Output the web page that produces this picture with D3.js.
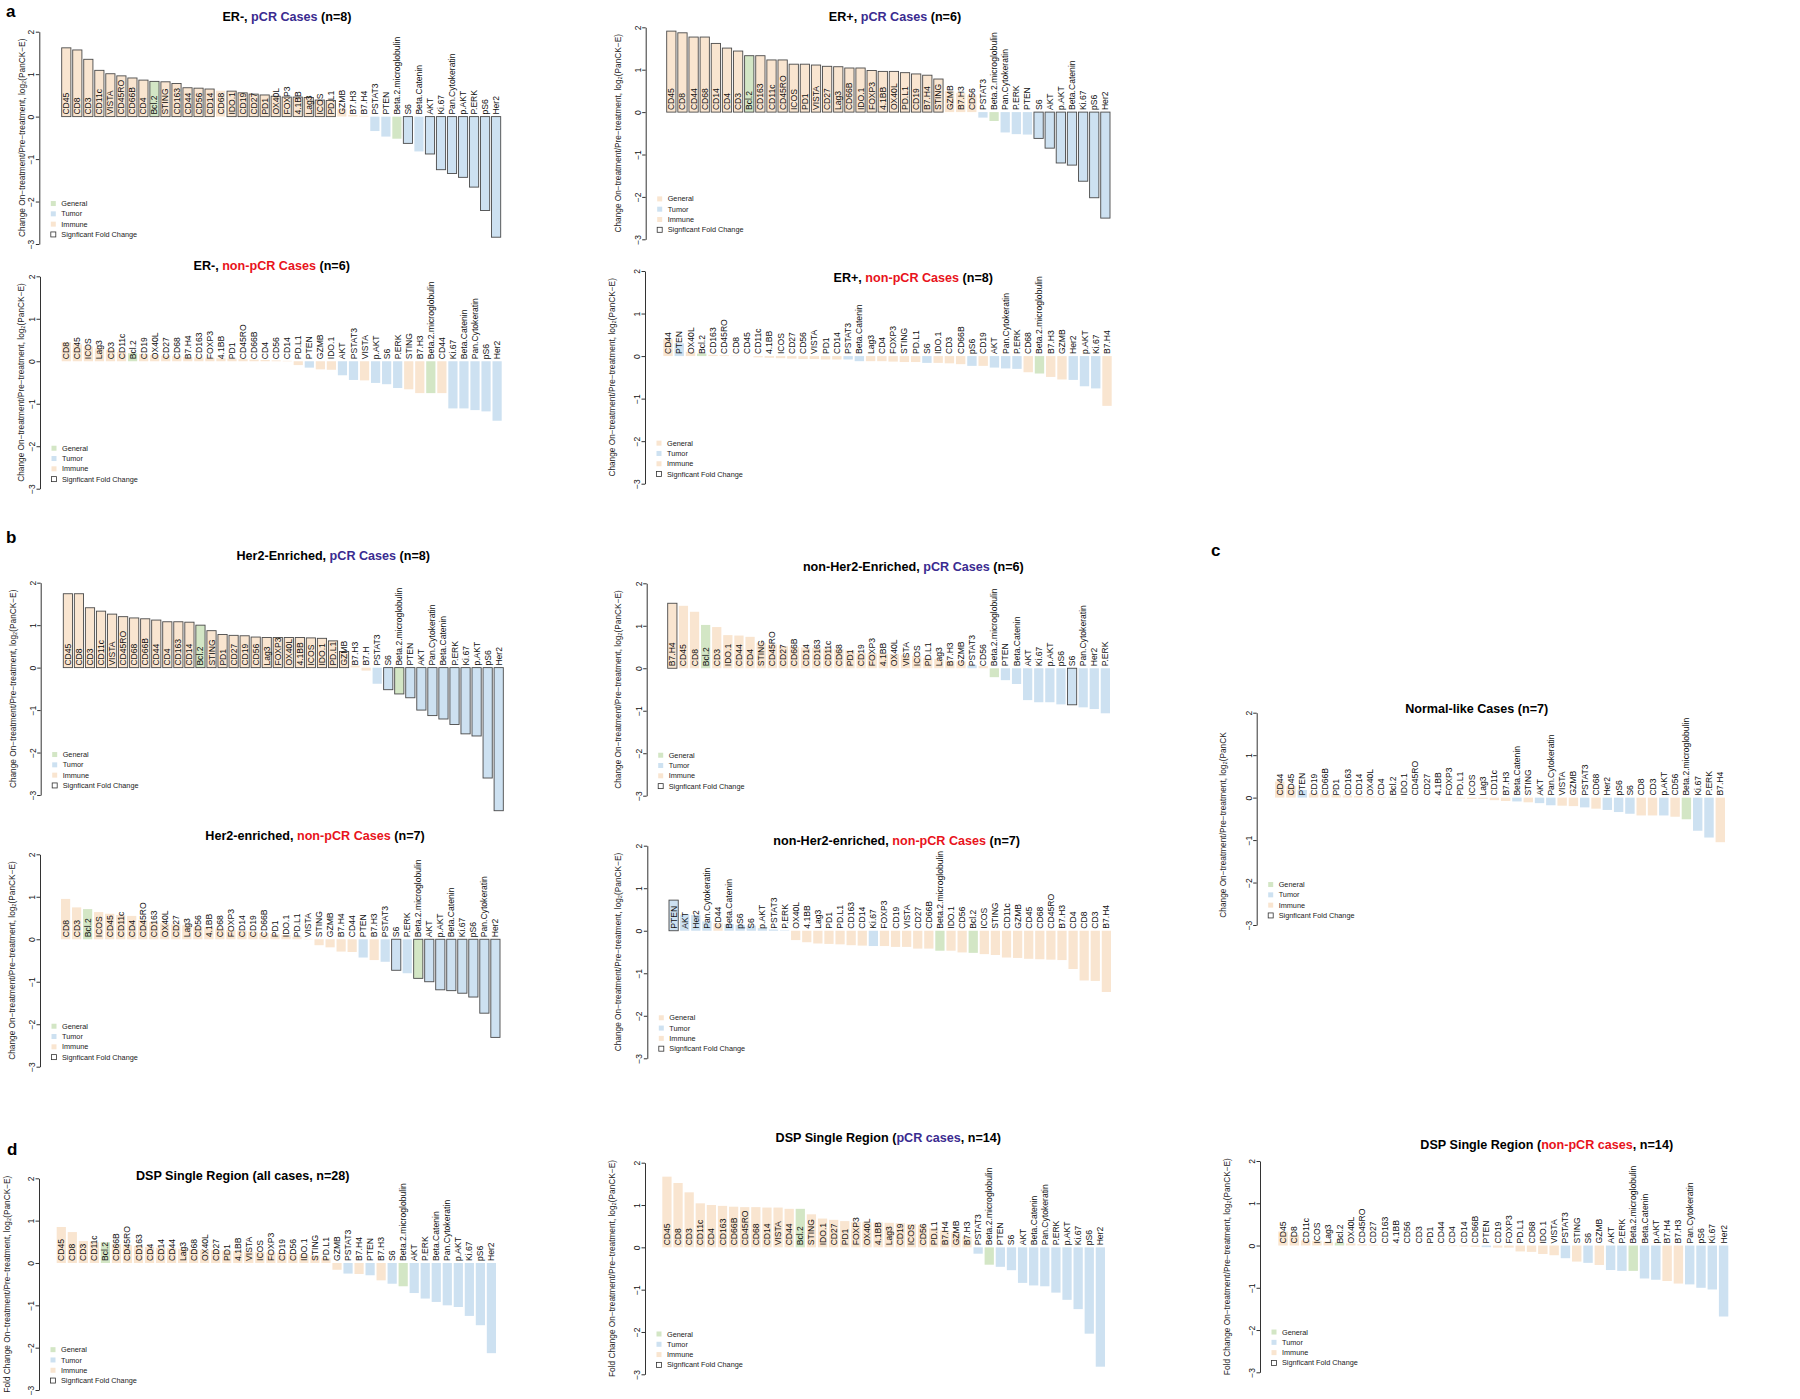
<!DOCTYPE html>
<html>
<head>
<meta charset="utf-8">
<script src="https://cdn.jsdelivr.net/npm/d3@7"></script>
<style>
  body { margin: 0; background: #fff; }
  svg { display: block; font-family: 'Liberation Sans', Arial, Helvetica, sans-serif; }
</style>
</head>
<body>
<div id="fig"></div>
<script>
// marker groups (colour of the bars)
var tumorMarkers = ['PSTAT3', 'PTEN', 'S6', 'Beta.Catenin', 'AKT', 'Ki.67', 'Pan.Cytokeratin', 'p.AKT', 'P.ERK', 'pS6', 'Her2']
var generalMarkers = ['Bcl.2', 'Beta.2.microglobulin']
var legendNames = ['General', 'Tumor', 'Immune', 'Signficant Fold Change']
var yTicks = [2, 1, 0, -1, -2, -3]

// a - ER-, pCR
var erNegPcrLabels = ['CD45','CD8','CD3','CD11c','VISTA','CD45RO','CD66B','CD4','Bcl.2','STING','CD163','CD44','CD56','CD14','CD68','IDO.1','CD19','CD27','PD1','OX40L','FOXP3','4.1BB','Lag3','ICOS','PD.L1','GZMB','B7.H3','B7.H4','PSTAT3','PTEN','Beta.2.microglobulin','S6','Beta.Catenin','AKT','Ki.67','Pan.Cytokeratin','p.AKT','P.ERK','pS6','Her2']
var erNegPcrValues = [1.62,1.57,1.35,1.09,1.01,0.96,0.91,0.86,0.83,0.82,0.78,0.68,0.67,0.65,0.61,0.60,0.56,0.53,0.51,0.48,0.46,0.46,0.45,0.39,0.38,0.19,0.04,0.02,-0.34,-0.47,-0.52,-0.63,-0.82,-0.88,-1.25,-1.34,-1.43,-1.66,-2.21,-2.84]
var erNegPcrSig = ['CD45','CD8','CD3','CD11c','VISTA','CD45RO','CD66B','CD4','Bcl.2','STING','CD163','CD44','CD56','CD14','IDO.1','CD19','CD27','PD1','OX40L','FOXP3','4.1BB','Lag3','ICOS','PD.L1','S6','AKT','Ki.67','Pan.Cytokeratin','p.AKT','P.ERK','pS6','Her2']

// a - ER+, pCR
var erPosPcrLabels = ['CD45','CD8','CD44','CD68','CD14','CD4','CD3','Bcl.2','CD163','CD11c','CD45RO','ICOS','PD1','VISTA','CD27','Lag3','CD66B','IDO.1','FOXP3','4.1BB','OX40L','PD.L1','CD19','B7.H4','STING','GZMB','B7.H3','CD56','PSTAT3','Beta.2.microglobulin','Pan.Cytokeratin','P.ERK','PTEN','S6','AKT','p.AKT','Beta.Catenin','Ki.67','pS6','Her2']
var erPosPcrValues = [1.91,1.87,1.77,1.77,1.62,1.51,1.44,1.33,1.33,1.23,1.23,1.13,1.13,1.11,1.08,1.07,1.04,1.04,0.98,0.96,0.96,0.93,0.90,0.87,0.78,0.50,0.45,0.40,-0.13,-0.21,-0.48,-0.52,-0.53,-0.62,-0.85,-1.20,-1.25,-1.63,-2.02,-2.50]
var erPosPcrSig = ['CD45','CD8','CD44','CD68','CD14','CD4','CD3','Bcl.2','CD163','CD11c','CD45RO','ICOS','PD1','VISTA','CD27','Lag3','CD66B','IDO.1','FOXP3','4.1BB','OX40L','PD.L1','CD19','B7.H4','STING','S6','AKT','p.AKT','Beta.Catenin','Ki.67','pS6','Her2']

// a - ER-, non-pCR
var erNegNonLabels = ['CD8','CD45','ICOS','Lag3','CD3','CD11c','Bcl.2','CD19','OX40L','CD27','CD68','B7.H4','CD163','FOXP3','4.1BB','PD1','CD45RO','CD66B','CD4','CD56','CD14','PD.L1','PTEN','GZMB','IDO.1','AKT','PSTAT3','VISTA','p.AKT','S6','P.ERK','STING','B7.H3','Beta.2.microglobulin','CD44','Ki.67','Beta.Catenin','Pan.Cytokeratin','pS6','Her2']
var erNegNonValues = [0.45,0.40,0.35,0.30,0.27,0.22,0.19,0.17,0.15,0.13,0.12,0.10,0.09,0.08,0.07,0.06,0.05,0.04,0.03,0.02,0.01,-0.09,-0.15,-0.19,-0.20,-0.33,-0.44,-0.45,-0.51,-0.54,-0.63,-0.66,-0.75,-0.75,-0.75,-1.11,-1.11,-1.15,-1.18,-1.40]
var erNegNonSig = []

// a - ER+, non-pCR
var erPosNonLabels = ['CD44','PTEN','OX40L','Bcl.2','CD163','CD45RO','CD8','CD45','CD11c','4.1BB','ICOS','CD27','CD56','VISTA','PD1','CD14','PSTAT3','Beta.Catenin','Lag3','CD4','FOXP3','STING','PD.L1','S6','IDO.1','CD3','CD66B','pS6','CD19','AKT','Pan.Cytokeratin','P.ERK','CD68','Beta.2.microglobulin','B7.H3','GZMB','Her2','p.AKT','Ki.67','B7.H4']
var erPosNonValues = [0.40,0.30,0.10,0.06,0.03,0.02,0.01,0.005,-0.03,-0.04,-0.05,-0.06,-0.07,-0.07,-0.08,-0.08,-0.08,-0.12,-0.12,-0.12,-0.13,-0.14,-0.14,-0.16,-0.16,-0.17,-0.19,-0.23,-0.23,-0.27,-0.29,-0.30,-0.38,-0.41,-0.49,-0.55,-0.56,-0.71,-0.76,-1.17]
var erPosNonSig = []

// b - Her2-Enriched, pCR
var her2PcrLabels = ['CD45','CD8','CD3','CD11c','VISTA','CD45RO','CD68','CD66B','CD44','CD4','CD163','CD14','Bcl.2','STING','PD1','CD27','CD19','CD56','Lag3','FOXP3','OX40L','4.1BB','ICOS','IDO.1','PD.L1','GZMB','B7.H3','B7.H','PSTAT3','S6','Beta.2.microglobulin','PTEN','AKT','Pan.Cytokeratin','Beta.Catenin','P.ERK','Ki.67','p.AKT','pS6','Her2']
var her2PcrValues = [1.74,1.74,1.41,1.33,1.26,1.20,1.17,1.15,1.12,1.08,1.08,1.07,1.00,0.87,0.78,0.76,0.75,0.72,0.71,0.71,0.71,0.71,0.70,0.69,0.63,0.38,0.05,-0.07,-0.38,-0.52,-0.62,-0.71,-1.00,-1.13,-1.21,-1.34,-1.56,-1.61,-2.60,-3.37]
var her2PcrSig = ['CD45','CD8','CD3','CD11c','VISTA','CD45RO','CD68','CD66B','CD44','CD4','CD163','CD14','Bcl.2','STING','PD1','CD27','CD19','CD56','Lag3','FOXP3','OX40L','4.1BB','ICOS','IDO.1','PD.L1','GZMB','S6','Beta.2.microglobulin','PTEN','AKT','Pan.Cytokeratin','Beta.Catenin','P.ERK','Ki.67','p.AKT','pS6','Her2']

// b - non-Her2-Enriched, pCR
var nonHer2PcrLabels = ['B7.H4','CD45','CD8','Bcl.2','CD3','IDO.1','CD44','CD4','STING','CD45RO','CD27','CD66B','CD14','CD163','CD11c','CD68','PD1','CD19','FOXP3','4.1BB','OX40L','VISTA','ICOS','PD.L1','Lag3','B7.H3','GZMB','PSTAT3','CD56','Beta.2.microglobulin','PTEN','Beta.Catenin','AKT','Ki.67','p.AKT','pS6','S6','Pan.Cytokeratin','Her2','P.ERK']
var nonHer2PcrValues = [1.53,1.47,1.33,1.02,0.97,0.78,0.77,0.74,0.60,0.56,0.52,0.50,0.49,0.48,0.46,0.45,0.42,0.36,0.35,0.34,0.33,0.31,0.29,0.24,0.22,0.18,0.16,0.07,0.05,-0.21,-0.28,-0.37,-0.75,-0.80,-0.80,-0.85,-0.86,-0.92,-0.96,-1.06]
var nonHer2PcrSig = ['B7.H4','S6']

// b - Her2-enriched, non-pCR
var her2NonLabels = ['CD8','CD3','Bcl.2','ICOS','CD45','CD11c','CD4','CD45RO','CD163','OX40L','CD27','Lag3','CD56','4.1BB','CD68','FOXP3','CD14','CD19','CD66B','PD1','IDO.1','PD.L1','VISTA','STING','GZMB','B7.H4','CD44','PTEN','B7.H3','PSTAT3','S6','P.ERK','Beta.2.microglobulin','AKT','p.AKT','Beta.Catenin','Ki.67','pS6','Pan.Cytokeratin','Her2']
var her2NonValues = [0.95,0.75,0.71,0.64,0.60,0.57,0.55,0.45,0.40,0.38,0.35,0.33,0.30,0.28,0.25,0.22,0.20,0.18,0.15,0.12,0.10,0.06,0.01,-0.14,-0.19,-0.29,-0.30,-0.43,-0.49,-0.53,-0.73,-0.80,-0.92,-1.00,-1.19,-1.21,-1.27,-1.36,-1.74,-2.31]
var her2NonSig = ['S6','Beta.2.microglobulin','AKT','p.AKT','Beta.Catenin','Ki.67','pS6','Pan.Cytokeratin','Her2']

// b - non-Her2-enriched, non-pCR
var nonHer2NonLabels = ['PTEN','AKT','Her2','Pan.Cytokeratin','CD44','Beta.Catenin','pS6','S6','p.AKT','PSTAT3','P.ERK','OX40L','4.1BB','Lag3','PD1','PD.L1','CD163','CD14','Ki.67','FOXP3','CD19','VISTA','CD27','CD66B','Beta.2.microglobulin','IDO.1','CD56','Bcl.2','ICOS','STING','CD11c','GZMB','CD45','CD68','CD45RO','B7.H3','CD4','CD8','CD3','B7.H4']
var nonHer2NonValues = [0.72,0.38,0.37,0.22,0.18,0.16,0.14,0.12,0.06,0.03,0.01,-0.22,-0.27,-0.30,-0.31,-0.32,-0.34,-0.35,-0.36,-0.36,-0.38,-0.38,-0.42,-0.42,-0.47,-0.47,-0.51,-0.52,-0.55,-0.57,-0.63,-0.64,-0.66,-0.67,-0.68,-0.69,-0.90,-1.17,-1.18,-1.44]
var nonHer2NonSig = ['PTEN']

// c - Normal-like
var normalLabels = ['CD44','CD45','PTEN','CD19','CD66B','PD1','CD163','CD14','OX40L','CD4','Bcl.2','IDO.1','CD45RO','CD27','4.1BB','FOXP3','PD.L1','ICOS','Lag3','CD11c','B7.H3','Beta.Catenin','STING','AKT','Pan.Cytokeratin','VISTA','GZMB','PSTAT3','CD68','Her2','pS6','S6','CD8','CD3','p.AKT','CD56','Beta.2.microglobulin','Ki.67','P.ERK','B7.H4']
var normalValues = [0.38,0.27,0.18,0.10,0.08,0.06,0.05,0.04,0.03,0.02,0.01,0.005,0.002,-0.005,-0.01,-0.01,-0.02,-0.03,-0.03,-0.06,-0.08,-0.09,-0.11,-0.13,-0.18,-0.19,-0.20,-0.23,-0.26,-0.29,-0.34,-0.38,-0.42,-0.42,-0.42,-0.45,-0.51,-0.78,-0.94,-1.05]
var normalSig = []

// d - DSP single region, all cases
var dspAllLabels = ['CD45','CD8','CD3','CD11c','Bcl.2','CD66B','CD45RO','CD163','CD4','CD14','CD44','Lag3','CD68','OX40L','CD27','PD1','4.1BB','VISTA','ICOS','FOXP3','CD19','CD56','IDO.1','STING','PD.L1','GZMB','PSTAT3','B7.H4','PTEN','B7.H3','S6','Beta.2.microglobulin','AKT','P.ERK','Beta.Catenin','Pan.Cytokeratin','p.AKT','Ki.67','pS6','Her2']
var dspAllValues = [0.85,0.73,0.52,0.49,0.49,0.45,0.42,0.40,0.38,0.36,0.35,0.33,0.32,0.31,0.30,0.29,0.28,0.27,0.26,0.25,0.24,0.22,0.20,0.18,0.12,-0.16,-0.25,-0.26,-0.29,-0.41,-0.49,-0.55,-0.71,-0.84,-0.92,-1.00,-1.04,-1.25,-1.47,-2.13]
var dspAllSig = []

// d - DSP single region, pCR
var dspPcrLabels = ['CD45','CD8','CD3','CD11c','CD4','CD163','CD66B','CD45RO','CD68','CD14','VISTA','CD44','Bcl.2','STING','IDO.1','CD27','PD1','FOXP3','OX40L','4.1BB','Lag3','CD19','ICOS','CD56','PD.L1','B7.H4','GZMB','B7.H3','PSTAT3','Beta.2.microglobulin','PTEN','S6','AKT','Beta.Catenin','Pan.Cytokeratin','P.ERK','p.AKT','Ki.67','pS6','Her2']
var dspPcrValues = [1.67,1.52,1.30,1.04,1.00,0.98,0.96,0.95,0.95,0.94,0.94,0.91,0.91,0.78,0.68,0.65,0.62,0.60,0.59,0.59,0.58,0.57,0.55,0.52,0.45,0.40,0.35,0.25,-0.15,-0.41,-0.46,-0.54,-0.84,-0.90,-0.92,-1.07,-1.24,-1.46,-2.04,-2.82]
var dspPcrSig = []

// d - DSP single region, non-pCR
var dspNonLabels = ['CD45','CD8','CD11c','ICOS','Lag3','Bcl.2','OX40L','CD45RO','CD27','CD163','4.1BB','CD56','CD3','PD1','CD44','CD4','CD14','CD66B','PTEN','CD19','FOXP3','PD.L1','CD68','IDO.1','VISTA','PSTAT3','STING','S6','GZMB','AKT','P.ERK','Beta.2.microglobulin','Beta.Catenin','p.AKT','B7.H4','B7.H3','Pan.Cytokeratin','pS6','Ki.67','Her2']
var dspNonValues = [0.33,0.25,0.12,0.11,0.09,0.07,0.05,0.03,0.02,0.015,0.01,0.005,0.002,-0.01,-0.01,-0.015,-0.02,-0.03,-0.04,-0.05,-0.05,-0.14,-0.15,-0.20,-0.23,-0.30,-0.38,-0.41,-0.46,-0.58,-0.60,-0.60,-0.78,-0.81,-0.84,-0.90,-0.92,-1.00,-1.04,-1.68]
var dspNonSig = []

var colImmune = '#f9e5d0'
var colTumor = '#cde1f1'
var colGeneral = '#d3e6c5'
var colPcr = '#3a2b90'
var colNon = '#e8131b'

var labChange = 'Change On\u2212treatment/Pre\u2212treatment, log\u2082(PanCK\u2212E)'
var labFold = 'Fold Change On\u2212treatment/Pre\u2212treatment, log\u2082(PanCK\u2212E)'

function colorOf(m) {
  if (generalMarkers.indexOf(m) >= 0) return colGeneral
  if (tumorMarkers.indexOf(m) >= 0) return colTumor
  return colImmune
}

var svg = d3.select('#fig').append('svg').attr('width', 1800).attr('height', 1399)
svg.append('rect').attr('width', 1800).attr('height', 1399).attr('fill', '#fff')

//layout of every panel (pixel positions)
var panels = [
  { labels: erNegPcrLabels, values: erNegPcrValues, sig: erNegPcrSig, title: ['ER-, ', 'pCR Cases', ' (n=8)'], tcol: colPcr,
    axisX: 39.3, yTop: 31.7, yBottom: 244, barLeft: 61.7, barRight: 500.7, titleX: 287, titleY: 21.2, ylabX: 21.7, ylab: labChange, gen: colGeneral },
  { labels: erPosPcrLabels, values: erPosPcrValues, sig: erPosPcrSig, title: ['ER+, ', 'pCR Cases', ' (n=6)'], tcol: colPcr,
    axisX: 645.7, yTop: 27.3, yBottom: 239.3, barLeft: 666.7, barRight: 1110, titleX: 895, titleY: 21.2, ylabX: 617.7, ylab: labChange, gen: colImmune },
  { labels: erNegNonLabels, values: erNegNonValues, sig: erNegNonSig, title: ['ER-, ', 'non-pCR Cases', ' (n=6)'], tcol: colNon,
    axisX: 40, yTop: 276.3, yBottom: 488.7, barLeft: 61.7, barRight: 501.7, titleX: 271.7, titleY: 269.8, ylabX: 20.7, ylab: labChange, gen: colGeneral },
  { labels: erPosNonLabels, values: erPosNonValues, sig: erPosNonSig, title: ['ER+, ', 'non-pCR Cases', ' (n=8)'], tcol: colNon,
    axisX: 645, yTop: 271, yBottom: 483.7, barLeft: 663.3, barRight: 1111.7, titleX: 913.3, titleY: 281.5, ylabX: 612.3, ylab: labChange, gen: colImmune },
  { labels: her2PcrLabels, values: her2PcrValues, sig: her2PcrSig, title: ['Her2-Enriched, ', 'pCR Cases', ' (n=8)'], tcol: colPcr,
    axisX: 40.7, yTop: 582.7, yBottom: 795, barLeft: 63.3, barRight: 503.3, titleX: 333.3, titleY: 559.5, ylabX: 13.3, ylab: labChange, gen: colGeneral },
  { labels: nonHer2PcrLabels, values: nonHer2PcrValues, sig: nonHer2PcrSig, title: ['non-Her2-Enriched, ', 'pCR Cases', ' (n=6)'], tcol: colPcr,
    axisX: 646.7, yTop: 583.3, yBottom: 795.7, barLeft: 667.7, barRight: 1110, titleX: 913.3, titleY: 570.5, ylabX: 617.7, ylab: labChange, gen: colGeneral },
  { labels: her2NonLabels, values: her2NonValues, sig: her2NonSig, title: ['Her2-enriched, ', 'non-pCR Cases', ' (n=7)'], tcol: colNon,
    axisX: 40, yTop: 854.3, yBottom: 1066.7, barLeft: 61, barRight: 500, titleX: 315, titleY: 840.2, ylabX: 11.7, ylab: labChange, gen: colGeneral },
  { labels: nonHer2NonLabels, values: nonHer2NonValues, sig: nonHer2NonSig, title: ['non-Her2-enriched, ', 'non-pCR Cases', ' (n=7)'], tcol: colNon,
    axisX: 647.3, yTop: 845.7, yBottom: 1058.3, barLeft: 669, barRight: 1111, titleX: 896.7, titleY: 844.5, ylabX: 618.3, ylab: labChange, gen: colImmune },
  { labels: normalLabels, values: normalValues, sig: normalSig, title: ['Normal-like Cases (n=7)', '', ''], tcol: '#000',
    axisX: 1256.7, yTop: 712.7, yBottom: 925, barLeft: 1275, barRight: 1725, titleX: 1476.7, titleY: 712.8, ylabX: 1223.3,
    ylab: 'Change On\u2212treatment/Pre\u2212treatment, log\u2082(PanCK', ylabY: 825, gen: colGeneral },
  { labels: dspAllLabels, values: dspAllValues, sig: dspAllSig, title: ['DSP Single Region (all cases, n=28)', '', ''], tcol: '#000',
    axisX: 39, yTop: 1178.3, yBottom: 1390, barLeft: 56.7, barRight: 496, titleX: 242.7, titleY: 1179.5, ylabX: 6.7, ylab: labFold, gen: colGeneral },
  { labels: dspPcrLabels, values: dspPcrValues, sig: dspPcrSig, title: ['DSP Single Region (', 'pCR cases', ', n=14)'], tcol: colPcr,
    axisX: 645, yTop: 1162.7, yBottom: 1374.3, barLeft: 662.3, barRight: 1105, titleX: 888.3, titleY: 1141.8, ylabX: 612.3, ylab: labFold, gen: colGeneral },
  { labels: dspNonLabels, values: dspNonValues, sig: dspNonSig, title: ['DSP Single Region (', 'non-pCR cases', ', n=14)'], tcol: colNon,
    axisX: 1260, yTop: 1161, yBottom: 1372.3, barLeft: 1278.3, barRight: 1728.3, titleX: 1546.7, titleY: 1148.5, ylabX: 1227.3, ylab: labFold, gen: colGeneral }
]

panels.forEach(drawPanel)

function drawPanel(p) {
  var g = svg.append('g')
  var y = d3.scaleLinear().domain([-3, 2]).range([p.yBottom, p.yTop])
  var x = d3.scaleBand()
    .domain(d3.range(p.labels.length))
    .range([p.barLeft, p.barRight])
    .paddingInner(0.2 / 1.2)
    .paddingOuter(0)

  // barras
  g.selectAll('rect.bar')
    .data(p.values)
    .enter()
    .append('rect')
    .attr('class', 'bar')
    .attr('x', (d, i) => x(i))
    .attr('width', x.bandwidth())
    .attr('y', (d) => y(Math.max(0, d)))
    .attr('height', (d) => Math.abs(y(d) - y(0)))
    .attr('fill', (d, i) => colorOf(p.labels[i]))
    .attr('stroke', (d, i) => (p.sig.indexOf(p.labels[i]) >= 0 ? '#4a4a4a' : 'none'))
    .attr('stroke-width', 0.9)

  // marker names written upwards from the zero line
  g.selectAll('text.lab')
    .data(p.labels)
    .enter()
    .append('text')
    .attr('class', 'lab')
    .attr('transform', (d, i) => 'translate(' + (x(i) + x.bandwidth() / 2) + ',' + (y(0) - 2) + ') rotate(-90)')
    .attr('dy', '0.35em')
    .attr('font-size', 8.6)
    .attr('fill', '#111')
    .text((d) => d)

  // eje y
  var axis = d3.axisLeft(y)
    .tickValues(yTicks)
    .tickSizeInner(3.5)
    .tickSizeOuter(0)
    .tickFormat((d) => (d < 0 ? '\u2212' + -d : d))
  var ag = g.append('g')
    .attr('transform', 'translate(' + p.axisX + ',0)')
    .call(axis)
    .attr('font-size', 8.5)
    .attr('font-family', null)
  ag.select('.domain').attr('stroke', '#333')
  ag.selectAll('.tick line').attr('stroke', '#333')
  ag.selectAll('.tick text')
    .attr('x', 0)
    .attr('dy', 0)
    .attr('text-anchor', 'middle')
    .attr('fill', '#111')
    .attr('transform', 'translate(-5,0) rotate(-90)')

  var ylabY = p.ylabY !== undefined ? p.ylabY : (p.yTop + p.yBottom) / 2
  g.append('text')
    .attr('transform', 'translate(' + p.ylabX + ',' + ylabY + ') rotate(-90)')
    .attr('text-anchor', 'middle')
    .attr('dy', '0.35em')
    .attr('font-size', 8.3)
    .attr('fill', '#222')
    .text(p.ylab)

  // titulo
  var t = g.append('text')
    .attr('x', p.titleX)
    .attr('y', p.titleY)
    .attr('text-anchor', 'middle')
    .attr('font-size', 12.6)
    .attr('font-weight', 'bold')
    .attr('fill', '#000')
  t.append('tspan').text(p.title[0])
  if (p.title[1]) t.append('tspan').attr('fill', p.tcol).text(p.title[1])
  if (p.title[2]) t.append('tspan').text(p.title[2])

  // leyenda
  var swatch = [p.gen, colTumor, colImmune, 'none']
  var ly = y(-2) + 2
  legendNames.forEach((name, i) => {
    var cy = ly + i * 10.3
    g.append('rect')
      .attr('x', p.axisX + 11.5)
      .attr('y', cy - 2.5)
      .attr('width', 5)
      .attr('height', 5)
      .attr('fill', swatch[i] == 'none' ? '#fff' : swatch[i])
      .attr('stroke', swatch[i] == 'none' ? '#333' : 'none')
      .attr('stroke-width', 0.8)
    g.append('text')
      .attr('x', p.axisX + 22)
      .attr('y', cy)
      .attr('dy', '0.35em')
      .attr('font-size', 7.3)
      .attr('fill', '#222')
      .text(name)
  })
}

// letras de los paneles
var letters = [['a', 6, 17], ['b', 6, 543], ['c', 1211, 556], ['d', 7, 1155]]
letters.forEach((l) => {
  svg.append('text')
    .attr('x', l[1])
    .attr('y', l[2])
    .attr('font-size', 17)
    .attr('font-weight', 'bold')
    .text(l[0])
})
</script>
</body>
</html>
